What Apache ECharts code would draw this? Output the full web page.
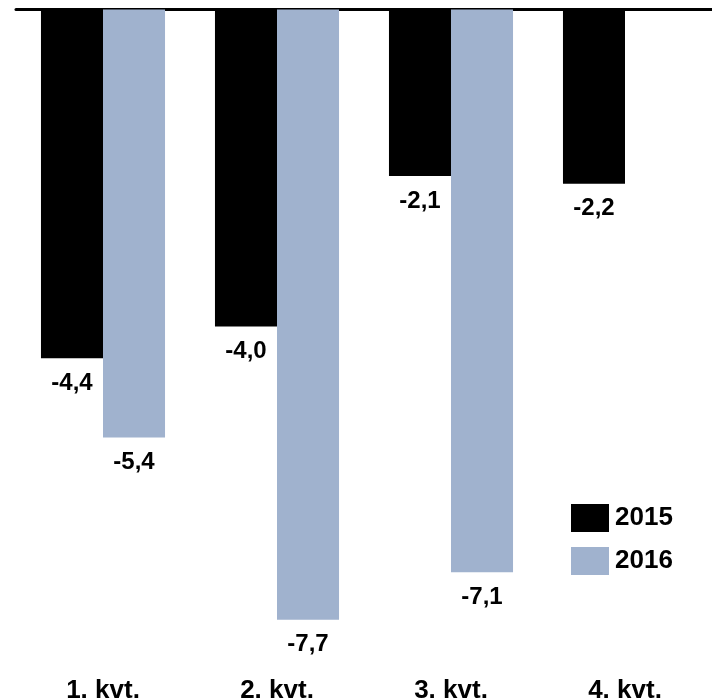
<!DOCTYPE html>
<html>
<head>
<meta charset="utf-8">
<script src="https://cdn.jsdelivr.net/npm/echarts@6/dist/echarts.min.js"></script>
<style>
html, body { margin: 0; padding: 0; background: #fff; }
#chart { width: 712px; height: 700px; }
</style>
</head>
<body>
<div id="chart"></div>
<script>
// kvartaly a hodnoty
const categories = ['1. kvt.', '2. kvt.', '3. kvt.', '4. kvt.']
const values2015 = [-4.4, -4.0, -2.1, -2.2]
const values2016 = [-5.4, -7.7, -7.1, null]

const FONT = 'Liberation Sans, Arial, sans-serif'

const labelFmt = p => p.value == null ? '' : String(p.value.toFixed(1)).replace('.', ',')

const makeSeries = (name, data, color) => ({
    name: name,
    type: 'bar',
    data: data,
    barGap: 0,
    barCategoryGap: '28.7%',
    itemStyle: { color: color },
    label: {
        show: true,
        position: 'bottom',
        distance: 13,
        formatter: labelFmt,
        color: '#000',
        fontFamily: FONT,
        fontWeight: 'bold',
        fontSize: 24
    }
})

const chart = echarts.init(document.getElementById('chart'))
chart.setOption({
    animation: false,
    backgroundColor: '#fff',
    grid: { left: 16, right: 0, top: 9.5, bottom: 56.5, outerBoundsMode: 'none', containLabel: false },
    legend: {
        orient: 'vertical',
        left: 566,
        top: 499,
        itemWidth: 38,
        itemHeight: 28,
        itemGap: 15,
        icon: 'rect',
        data: ['2015', '2016'],
        textStyle: {
            color: '#000',
            fontFamily: FONT,
            fontWeight: 'bold',
            fontSize: 26,
            padding: [0, 0, 0, 1]
        }
    },
    xAxis: [
        {
            type: 'category',
            data: categories,
            position: 'bottom',
            axisLine: { show: false, onZero: false },
            axisTick: { show: false },
            axisLabel: {
                margin: 34,
                color: '#000',
                fontFamily: FONT,
                fontWeight: 'bold',
                fontSize: 26
            }
        },
        {
            type: 'category',
            data: categories,
            position: 'top',
            axisLine: { show: true, onZero: false, lineStyle: { color: '#000', width: 3 } },
            axisTick: { show: false },
            axisLabel: { show: false }
        }
    ],
    yAxis: {
        type: 'value',
        min: -8,
        max: 0,
        show: false,
        splitLine: { show: false }
    },
    series: [
        makeSeries('2015', values2015, '#000000'),
        makeSeries('2016', values2016, '#A0B2CE')
    ]
})
</script>
</body>
</html>
